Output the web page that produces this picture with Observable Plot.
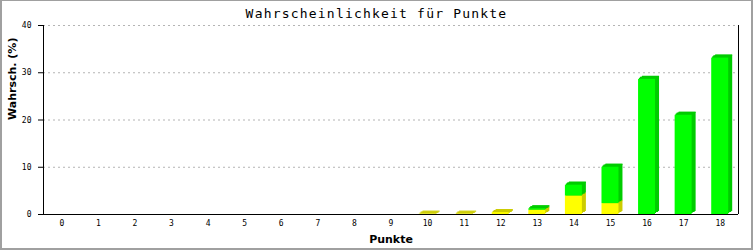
<!DOCTYPE html>
<html>
<head>
<meta charset="utf-8">
<script src="https://cdn.jsdelivr.net/npm/d3@7"></script>
<script src="https://cdn.jsdelivr.net/npm/@observablehq/plot@0.6"></script>
<style>
  html, body { margin: 0; padding: 0; background: #fff; }
  #wrap { position: relative; width: 753px; height: 250px; overflow: hidden; background: #fff; }
  #border { position: absolute; left: 0; top: 0; width: 753px; height: 250px; box-sizing: border-box;
            border: 2px solid #a0a0a0; border-top-width: 1px; pointer-events: none; }
  #title { position: absolute; left: 0; top: 7px; width: 753px; text-align: center;
           font-family: "DejaVu Sans Mono", monospace; font-size: 13px; letter-spacing: 1.2px; color: #000; line-height: 14px; }
  #chart { position: absolute; left: 0; top: 0; }
</style>
</head>
<body>
<div id="wrap">
  <div id="chart"></div>
  <div id="title">Wahrscheinlichkeit für Punkte</div>
  <div id="border"></div>
</div>
<script>
const titel = "Wahrscheinlichkeit für Punkte";
const yLabel = "Wahrsch. (%)";
const xLabel = "Punkte";
const punkte = [0,1,2,3,4,5,6,7,8,9,10,11,12,13,14,15,16,17,18];
const gelb   = [0,0,0,0,0,0,0,0,0,0,0.05,0.05,0.4,0.9,3.9,2.3,0,0,0];
const gruen  = [0,0,0,0,0,0,0,0,0,0,0,0,0,0.3,2.3,7.7,28.6,21.0,33.1];
const yTicks = [0,10,20,30,40];
const gridTicks = [10,20,30,40];

const rows = punkte.map((p, i) => ({p, g0: 0, g1: gelb[i], r0: gelb[i], r1: gelb[i] + gruen[i], gelb: gelb[i], gruen: gruen[i]}));
const gelbRows = rows.filter(d => d.gelb > 0);
const gruenRows = rows.filter(d => d.gruen > 0);

const offsets = [[1,-1],[2,-2],[3,-2],[4,-3]];
const inset = 9.8;
const x1 = d => d.p - 0.5, x2 = d => d.p + 0.5;

function block(data, lo, hi, front, dark) {
  const marks = [];
  for (const [dx, dy] of offsets) {
    marks.push(Plot.rectY(data, {x1, x2, y1: lo, y2: hi, insetLeft: inset, insetRight: inset, dx, dy, fill: dark}));
    marks.push(Plot.ruleY(data, {x1, x2, y: hi, insetLeft: inset, insetRight: inset, dx, dy, stroke: dark, strokeWidth: 1}));
  }
  marks.push(Plot.rectY(data, {x1, x2, y1: lo, y2: hi, insetLeft: inset, insetRight: inset, fill: front}));
  return marks;
}

const chart = Plot.plot({
  width: 753,
  height: 250,
  marginLeft: 43,
  marginRight: 15,
  marginTop: 25,
  marginBottom: 36,
  style: {fontFamily: "DejaVu Sans Mono, monospace", fontSize: "8px", color: "#000", background: "transparent"},
  x: {domain: [-0.5, 18.5], ticks: punkte},
  y: {domain: [0, 40], ticks: yTicks},
  marks: [
    Plot.ruleY(gridTicks, {stroke: "#b4b4b4", strokeDasharray: "2,3", strokeWidth: 1}),
    ...block(gelbRows, "g0", "g1", "#ffff00", "#cccc00"),
    ...block(gruenRows, "r0", "r1", "#00ff00", "#00cc00"),
    Plot.axisY({ticks: yTicks, tickSize: 5, tickPadding: 7, label: null, tickFormat: d => String(d), fontFamily: "DejaVu Sans Mono, monospace", fontSize: 8}),
    Plot.axisX({ticks: punkte, tickSize: 0, tickPadding: 6, label: null, tickFormat: d => String(d), fontFamily: "DejaVu Sans Mono, monospace", fontSize: 8}),
    Plot.ruleY([0], {stroke: "#000", strokeWidth: 1}),
    Plot.ruleX([-0.5, 18.5], {stroke: "#000", strokeWidth: 1}),
    Plot.text([xLabel], {frameAnchor: "bottom", dy: 28, lineAnchor: "bottom", fontFamily: "DejaVu Sans, sans-serif", fontWeight: "bold", fontSize: 11, fill: "#000"}),
    Plot.text([yLabel], {frameAnchor: "left", dx: -31, rotate: -90, fontFamily: "DejaVu Sans, sans-serif", fontWeight: "bold", fontSize: 11, fill: "#000"})
  ]
});
document.getElementById("chart").appendChild(chart);
document.getElementById("title").textContent = titel;
</script>
</body>
</html>
